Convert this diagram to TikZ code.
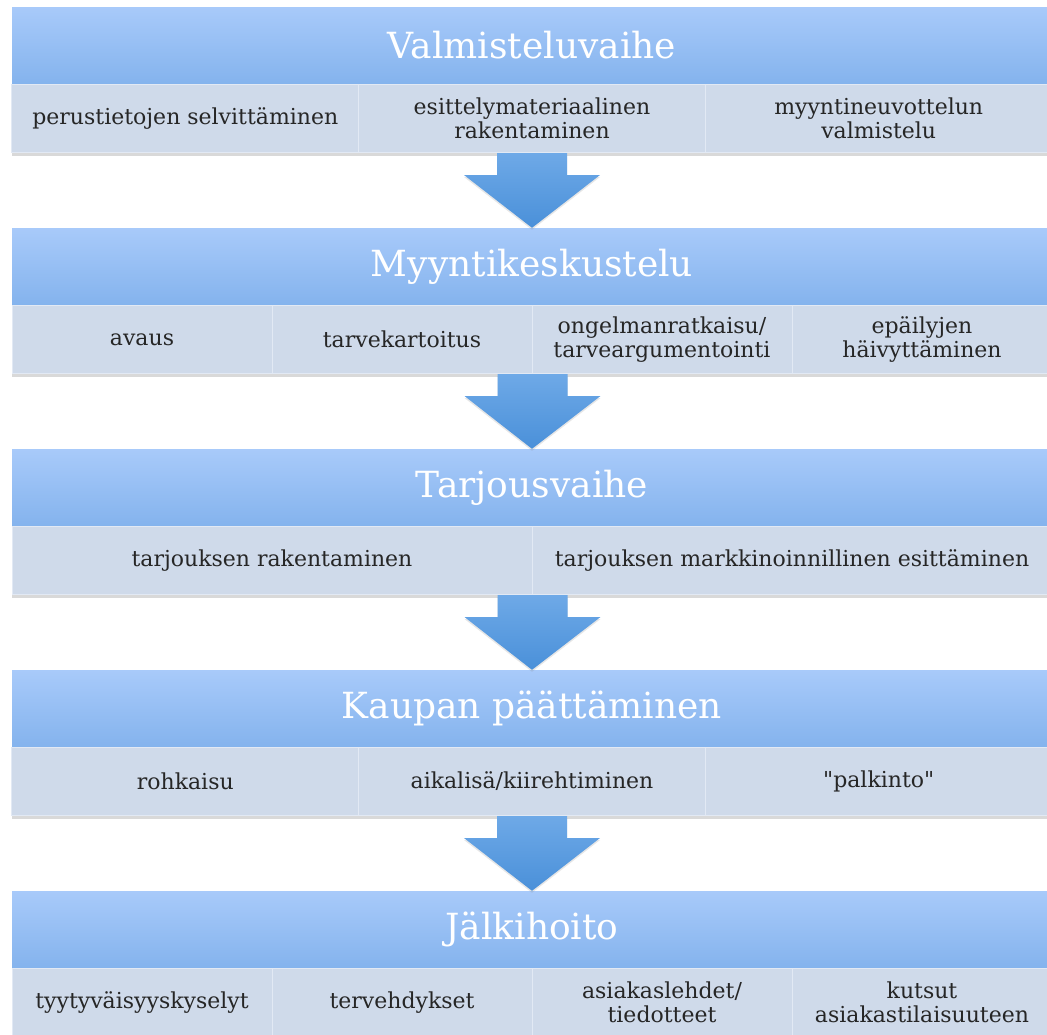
\documentclass[tikz,border=0pt]{standalone}
\usepackage{fontspec}
\setmainfont{DejaVu Serif}
\usetikzlibrary{calc,shadows}

\definecolor{headtop}{RGB}{168,202,250}
\definecolor{headbot}{RGB}{132,179,237}
\definecolor{cellfill}{RGB}{207,218,234}
\definecolor{cellline}{RGB}{226,233,244}
\definecolor{arrowtop}{RGB}{110,169,231}
\definecolor{arrowbot}{RGB}{74,144,217}

\tikzstyle{stage}=[rectangle,inner sep=0pt,minimum width=1040pt,minimum height=77pt,
  top color=headtop,bottom color=headbot,text=white,
  font=\fontsize{36}{40}\selectfont,
  drop shadow={shadow xshift=0pt,shadow yshift=-3pt,opacity=0.3}]
\tikzstyle{task}=[rectangle,inner sep=0pt,minimum height=68pt,
  fill=cellfill,draw=cellline,line width=1pt,text=black!85,align=center,
  font=\fontsize{22}{24}\selectfont,
  drop shadow={shadow xshift=0pt,shadow yshift=-3pt,opacity=0.3}]
\tikzstyle{flow}=[top color=arrowtop,bottom color=arrowbot,
  drop shadow={shadow xshift=0pt,shadow yshift=-2pt,opacity=0.2}]

\newcommand{\stagearrow}[2]{%
\path[flow] ($(#1)+(-35,0)$) -- ($(#1)+(35,0)$) -- ($(#1)+(35,22)$)
  -- ($(#1)+(68,22)$) -- (#2) -- ($(#1)+(-68,22)$) -- ($(#1)+(-35,22)$) -- cycle;}

\begin{document}
\begin{tikzpicture}[x=1pt,y=-1pt]

\useasboundingbox (0,0) rectangle (1047,1034);

%%% Valmisteluvaihe

\node [stage] (h1) at (532, 45.5) {Valmisteluvaihe};

\node [task,minimum width=346.7pt] (c11) at (185.3, 118.5)
{perustietojen selvittäminen};
\node [task,minimum width=346.7pt] (c12) at (532, 118.5)
{esittelymateriaalinen\\ rakentaminen};
\node [task,minimum width=346.7pt] (c13) at (878.7, 118.5)
{myyntineuvottelun\\ valmistelu};

%%% Myyntikeskustelu

\node [stage] (h2) at (532, 266.5) {Myyntikeskustelu};

\node [task,minimum width=260pt] (c21) at (142, 339.5) {avaus};
\node [task,minimum width=260pt] (c22) at (402, 339.5) {tarvekartoitus};
\node [task,minimum width=260pt] (c23) at (662, 339.5)
{ongelmanratkaisu/\\ tarveargumentointi};
\node [task,minimum width=260pt] (c24) at (922, 339.5)
{epäilyjen\\ häivyttäminen};

%%% Tarjousvaihe

\node [stage] (h3) at (532, 487.5) {Tarjousvaihe};

\node [task,minimum width=520pt] (c31) at (272, 560.5)
{tarjouksen rakentaminen};
\node [task,minimum width=520pt] (c32) at (792, 560.5)
{tarjouksen markkinoinnillinen esittäminen};

%%% Kaupan paattaminen

\node [stage] (h4) at (532, 708.5) {Kaupan päättäminen};

\node [task,minimum width=346.7pt] (c41) at (185.3, 781.5) {rohkaisu};
\node [task,minimum width=346.7pt] (c42) at (532, 781.5)
{aikalisä/kiirehtiminen};
\node [task,minimum width=346.7pt] (c43) at (878.7, 781.5)
{\textquotedbl palkinto\textquotedbl};

%%% Jalkihoito

\node [stage] (h5) at (532, 929.5) {Jälkihoito};

\node [task,minimum width=260pt] (c51) at (142, 1002.5)
{tyytyväisyyskyselyt};
\node [task,minimum width=260pt] (c52) at (402, 1002.5) {tervehdykset};
\node [task,minimum width=260pt] (c53) at (662, 1002.5)
{asiakaslehdet/\\ tiedotteet};
\node [task,minimum width=260pt] (c54) at (922, 1002.5)
{kutsut\\ asiakastilaisuuteen};

% Arrows between the stages

\stagearrow{c12.south}{h2.north}
\stagearrow{c22.south east}{h3.north}
\stagearrow{c31.south east}{h4.north}
\stagearrow{c42.south}{h5.north}

\end{tikzpicture}
\end{document}
